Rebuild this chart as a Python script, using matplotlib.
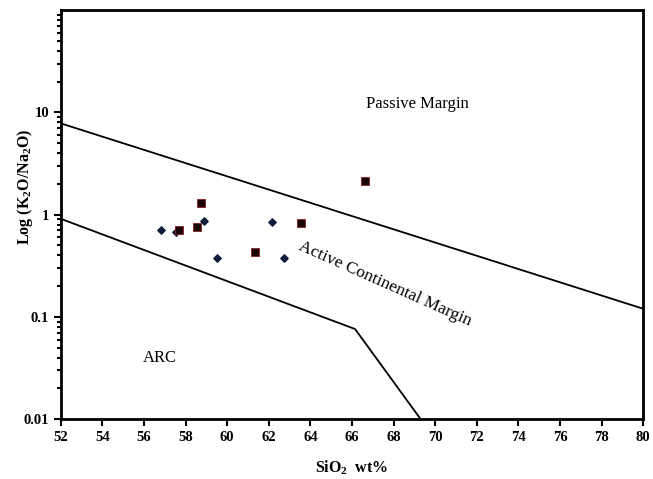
import numpy as np
import matplotlib
matplotlib.use("Agg")
import matplotlib.pyplot as plt
from matplotlib.ticker import LogLocator, FixedLocator, NullFormatter

# boundary lines (Roser & Korsch style)
upper_x = [52, 80]
upper_y = [7.8, 0.12]
lower_x = [52, 66.15, 69.3]
lower_y = [0.91, 0.076, 0.01]

# samples
sq_x = [58.73, 57.67, 58.57, 63.55, 61.34, 66.65]
sq_y = [1.29, 0.714, 0.748, 0.83, 0.435, 2.15]
dm_x = [56.82, 57.56, 58.89, 62.16, 59.49, 62.75]
dm_y = [0.714, 0.673, 0.875, 0.84, 0.377, 0.38]

x_ticks = list(range(52, 81, 2))
y_ticks = [0.01, 0.1, 1, 10]
y_tick_labels = ["0.01", "0.1", "1", "10"]

plt.rcParams['font.family'] = ['Liberation Serif', 'DejaVu Serif']
plt.rcParams['mathtext.fontset'] = 'custom'
plt.rcParams['mathtext.rm'] = 'Liberation Serif'
plt.rcParams['mathtext.bf'] = 'Liberation Serif:bold'

fig = plt.figure(figsize=(6.53, 4.79), dpi=100)
ax = fig.add_axes([0.093, 0.125, 0.892, 0.854])

ax.plot(upper_x, upper_y, color='black', lw=1.3)
ax.plot(lower_x, lower_y, color='black', lw=1.3)

ax.scatter(dm_x, dm_y, marker='D', s=14, color='#0d1a3a', zorder=3)
ax.scatter(sq_x, sq_y, marker='s', s=32, color='#1a0505', edgecolors='#8b2020',
           linewidths=0.6, zorder=3)

ax.set_yscale('log')
ax.set_xlim(52, 80)
ax.set_ylim(0.01, 100)

ax.xaxis.set_major_locator(FixedLocator(x_ticks))
ax.set_xticklabels([str(t) for t in x_ticks])
ax.yaxis.set_major_locator(FixedLocator(y_ticks))
ax.set_yticklabels(y_tick_labels)
ax.yaxis.set_minor_locator(LogLocator(base=10, subs=np.arange(2, 10)))
ax.yaxis.set_minor_formatter(NullFormatter())

for s in ax.spines.values():
    s.set_linewidth(2)
ax.tick_params(axis='both', which='major', direction='out', width=1.5, length=5,
               labelsize=10.5)
ax.tick_params(axis='y', which='minor', direction='out', width=1.5, length=3)
for lab in ax.get_xticklabels() + ax.get_yticklabels():
    lab.set_fontweight('bold')

ax.set_xlabel(r'SiO$_\mathbf{2}$  wt%', fontsize=11.5, fontweight='bold', labelpad=10)
ax.set_ylabel(r'Log (K$_\mathbf{2}$O/Na$_\mathbf{2}$O)', fontsize=11.5,
              fontweight='bold')
ax.yaxis.set_label_coords(-0.045, 0.567)

ax.text(69.16, 12.0, 'Passive Margin', fontsize=12, ha='center', va='center')
ax.text(67.6, 0.209, 'Active Continental Margin', fontsize=12.5, ha='center',
        va='center', rotation=-24, rotation_mode='anchor')
ax.text(56.76, 0.04, 'ARC', fontsize=12, ha='center', va='center')

fig.savefig('out.png', dpi=100)
